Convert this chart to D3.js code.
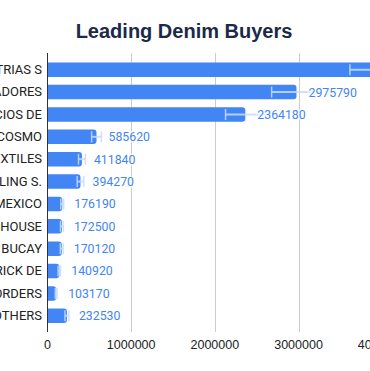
<!DOCTYPE html>
<html>
<head>
<meta charset="utf-8">
<script src="https://cdn.jsdelivr.net/npm/d3@7.9.0/dist/d3.min.js"></script>
<style>
  html, body { margin: 0; padding: 0; background: #fff; overflow: hidden; }
  svg { display: block; }
</style>
</head>
<body>
<svg id="chart"></svg>
<script>
// buyers (names are cut off at the left edge in the original)
const buyers = [
  'INDUSTRIAS S', 'COMERCIALIZADORES', 'SERVICIOS DE', 'COSMO',
  'TEXTILES', 'STERLING S.', 'MEXICO', 'HOUSE', 'BUCAY',
  'PATRICK DE', 'BORDERS', 'OTHERS'
];
const volumes = [
  4015820, 2975790, 2364180, 585620, 411840, 394270,
  176190, 172500, 170120, 140920, 103170, 232530
];
const xTicks = [0, 1000000, 2000000, 3000000, 4000000];

const width = 370, height = 371;
const svg = d3.select('#chart').attr('width', width).attr('height', height);

const x = d3.scaleLinear().domain([0, 4000000]).range([47.5, 382.2]);
const y = d3.scaleBand().domain(buyers).range([53.5, 332])
  .paddingInner(0.35).paddingOuter(0.4);

// title
svg.append('text')
  .attr('x', 184).attr('y', 38)
  .attr('text-anchor', 'middle')
  .style('font', 'bold 20px "Liberation Sans", Arial, sans-serif')
  .attr('fill', '#1b2a47')
  .text('Leading Denim Buyers');

// grid lines
svg.append('g').selectAll('line')
  .data(xTicks.slice(1))
  .join('line')
  .attr('x1', d => Math.round(x(d)) + 0.5).attr('x2', d => Math.round(x(d)) + 0.5)
  .attr('y1', 53).attr('y2', 332)
  .attr('stroke', '#cccccc');

// tick labels
svg.append('g').selectAll('text')
  .data(xTicks)
  .join('text')
  .attr('x', d => x(d)).attr('y', 349)
  .attr('text-anchor', 'middle')
  .style('font', '12.5px "Liberation Sans", Arial, sans-serif')
  .attr('fill', '#222')
  .text(d => d);

// bars, rounded on the right end
const r = 3;
function barPath(x0, x1, y0, h) {
  const rr = Math.min(r, (x1 - x0) / 2);
  return `M${x0},${y0}H${x1 - rr}Q${x1},${y0} ${x1},${y0 + rr}` +
    `V${y0 + h - rr}Q${x1},${y0 + h} ${x1 - rr},${y0 + h}H${x0}Z`;
}
svg.append('g').selectAll('path')
  .data(buyers)
  .join('path')
  .attr('d', (d, i) => barPath(x(0), x(volumes[i]), y(d), y.bandwidth()))
  .attr('fill', '#4285f4');

// interval markers (+/- 10%)
const eb = svg.append('g').attr('stroke', '#c6dafc').attr('stroke-opacity', 0.85);
buyers.forEach((d, i) => {
  const cy = y(d) + y.bandwidth() / 2;
  const lo = x(volumes[i] * 0.9), hi = x(volumes[i] * 1.1);
  const th = y.bandwidth() * 0.38;
  eb.append('line').attr('x1', lo).attr('x2', hi).attr('y1', cy).attr('y2', cy).attr('stroke-width', 2);
  eb.append('line').attr('x1', lo).attr('x2', lo).attr('y1', cy - th).attr('y2', cy + th).attr('stroke-width', 1.5);
  eb.append('line').attr('x1', hi).attr('x2', hi).attr('y1', cy - th).attr('y2', cy + th).attr('stroke-width', 1.5);
});

// value labels
svg.append('g').selectAll('text')
  .data(buyers)
  .join('text')
  .attr('x', (d, i) => x(volumes[i]) + 12)
  .attr('y', d => y(d) + y.bandwidth() / 2)
  .attr('dy', '0.36em')
  .style('font', '12.3px Roboto, sans-serif')
  .attr('fill', '#4285f4')
  .attr('stroke', '#fff').attr('stroke-width', 3).attr('stroke-opacity', 0.8)
  .attr('paint-order', 'stroke')
  .text((d, i) => volumes[i]);

// category labels
svg.append('g').selectAll('text')
  .data(buyers)
  .join('text')
  .attr('x', 42)
  .attr('y', d => y(d) + y.bandwidth() / 2)
  .attr('dy', '0.33em')
  .attr('text-anchor', 'end')
  .style('font', '13px Roboto, sans-serif')
  .attr('fill', '#222')
  .text(d => d);

// vertical axis line
svg.append('line')
  .attr('x1', 47.5).attr('x2', 47.5)
  .attr('y1', 53).attr('y2', 332)
  .attr('stroke', '#333');
</script>
</body>
</html>
